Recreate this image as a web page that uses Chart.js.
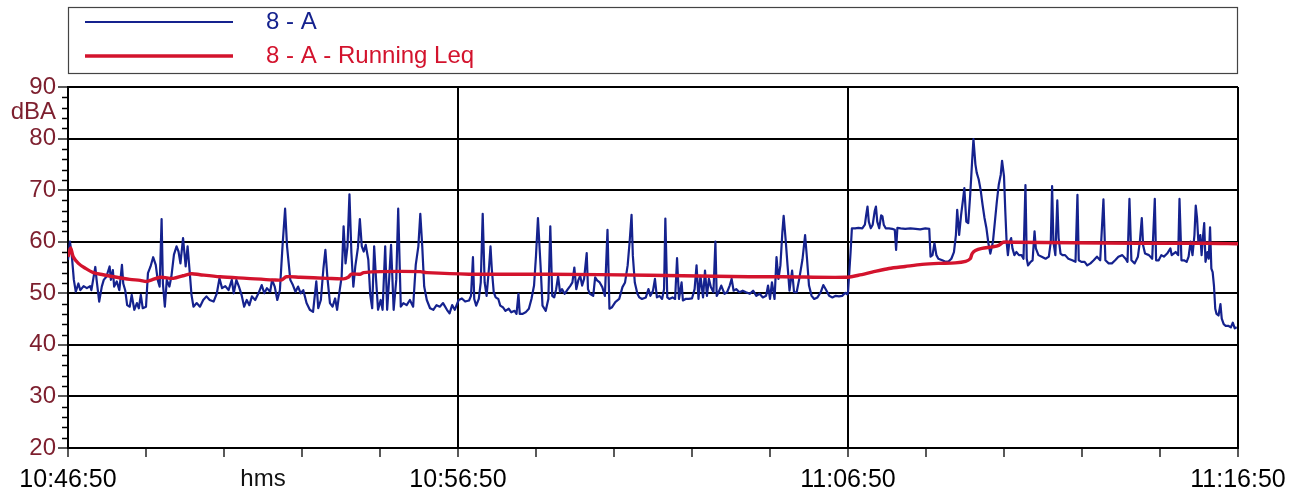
<!DOCTYPE html>
<html>
<head>
<meta charset="utf-8">
<title>8 - A noise level</title>
<style>
  html, body { margin: 0; padding: 0; background: #ffffff; }
  #wrap { position: relative; width: 1295px; height: 491px; }
</style>
<script src="https://cdn.jsdelivr.net/npm/chart.js@4.4.0/dist/chart.umd.min.js"></script>
</head>
<body>
<div id="wrap"><canvas id="c" width="1295" height="491"></canvas></div>
<script>
// Sound level 8 - A, seconds after 10:46:50, in dBA
const levelTime = [
  0,3,6,9,12,16,19,24,29,34,
  36,39,42,44,48,52,55,59,64,66,
  69,71,75,79,83,85,88,91,95,98,
  102,106,109,112,115,120,123,127,131,135,
  138,141,144,146,149,152,156,159,163,167,
  170,173,177,181,184,187,190,193,198,203,
  208,213,218,224,229,233,237,242,247,252,
  255,259,263,267,271,275,279,283,288,293,
  298,302,306,311,314,318,322,326,330,334,
  337,342,346,350,354,358,362,367,372,377,
  382,385,389,393,396,399,403,407,411,414,
  418,421,424,427,430,433,436,439,442,446,
  449,452,455,458,462,465,468,471,474,477,
  481,484,488,491,494,497,501,505,508,512,
  516,521,526,531,535,539,542,545,548,552,
  557,562,567,572,577,583,587,591,595,601,
  606,611,
  617,620,623,625,628,632,635,638,641,644,
  648,650,652,655,658,662,665,669,673,678,
  682,687,690,693,695,699,704,709,713,717,
  720,723,727,730,735,739,742,745,748,751,
  754,757,760,764,769,773,776,779,782,785,
  788,791,794,798,800,803,808,811,814,818,
  822,826,830,833,837,842,848,853,857,861,
  864,867,869,872,876,879,883,889,893,896,
  900,903,906,910,914,917,919,922,925,930,
  934,937,940,944,946,950,955,960,964,967,
  970,973,977,980,983,986,989,993,996,998,
  1001,1005,1010,1014,1018,1021,1024,1028,1033,1038,
  1043,1049,1054,1059,1064,1069,1074,1077,1080,1083,
  1087,1090,1093,1096,1099,1101,1104,1107,1110,1114,
  1117,1121,1125,1130,1134,1137,1140,1144,1148,1153,
  1158,1162,1167,1171,1176,1181,1186,1191,1196,1199,
  1200,1202,1204,1206,1211,1216,1222,1226,1228,1230,
  1232,1235,1238,1241,1243,1245,1248,1251,1253,1255,
  1258,1263,1268,1272,1274,1276,1281,1288,1296,1304,
  1311,1319,1325,1327,1330,1333,1336,1339,1345,1350,
  1355,1359,1363,1366,1368,1371,1374,1377,1379,1382,
  1385,1388,1391,1393,1396,1398,1401,1404,1407,1410,
  1413,1416,1419,1423,1426,1429,1432,1435,1437,1440,
  1442,1444,1446,1448,1451,1453,1456,1459,1463,1467,
  1470,1473,1475,1477,1481,1484,1487,1489,1493,1498,
  1504,1509,1512,1514,1516,1519,1522,1524,1527,1530,
  1534,1539,1545,1550,1553,1555,1559,1564,1568,1573,
  1578,1583,1588,1593,1596,1601,1606,1611,1616,1622,
  1627,1630,1633,1636,1641,1646,1649,1652,1654,1657,
  1663,1668,1672,1674,1678,1682,1686,1691,1696,1698,
  1704,1708,1710,1713,1717,1721,1724,1727,1730,1733,
  1735,1737,1739,1742,1744,1746,1748,1750,1753,1755,
  1757,1759,1761,1763,1765,1767,1770,1773,1775,1778,
  1781,1785,1789,1792,1795,1798
];
const levelDb = [
  56.5,60.0,57.1,52.6,50.3,51.9,50.6,51.4,51.0,51.4,
  50.6,52.9,55.1,52.6,48.4,51.3,52.6,53.2,55.2,52.6,
  54.5,51.3,52.3,50.6,55.5,51.9,50.6,47.7,47.4,49.7,
  46.8,48.1,47.1,49.7,47.1,47.4,53.9,55.2,57.0,55.5,
  52.6,51.3,64.4,51.9,47.4,52.6,51.3,53.2,57.5,59.1,
  58.1,55.8,60.7,55.2,59.1,54.5,49.7,47.4,48.1,47.4,
  48.7,49.4,48.7,48.4,50.0,52.9,51.0,51.4,50.6,52.6,
  50.0,52.6,51.3,49.7,47.4,48.7,47.7,49.4,48.7,50.0,
  51.6,50.0,51.0,50.3,52.6,51.3,48.7,50.6,59.1,66.4,
  59.1,52.6,51.6,50.3,51.3,50.0,50.6,48.1,46.8,46.4,
  52.3,47.1,48.7,54.9,58.4,53.2,48.1,47.4,49.0,46.8,
  50.6,53.2,63.0,55.8,59.1,69.2,57.8,51.3,55.2,58.8,
  64.4,59.1,58.1,59.4,56.5,49.7,47.1,59.1,52.6,46.8,
  48.7,46.8,59.1,46.8,52.6,59.4,46.8,52.6,66.4,47.4,
  48.1,47.7,48.7,47.4,55.5,59.1,65.4,59.1,51.3,48.7,
  47.1,46.8,47.7,47.4,48.1,46.8,46.1,47.7,46.8,48.7,
  49.0,48.4,
  48.6,49.5,57.0,48.9,47.6,48.9,52.1,65.4,52.1,49.5,
  55.4,59.1,54.7,50.2,49.2,48.9,47.6,47.3,46.6,47.0,
  46.3,46.6,46.0,49.9,46.0,46.0,46.3,47.0,48.9,51.5,
  57.3,64.6,55.4,47.6,46.6,48.9,63.0,49.5,49.2,50.8,
  53.3,50.2,50.8,49.9,50.8,51.5,52.1,55.0,50.8,52.5,
  53.4,51.5,52.8,57.8,50.8,49.9,49.5,53.1,52.5,52.1,
  51.2,49.5,62.3,47.0,47.3,48.3,48.9,51.2,52.1,55.4,
  59.9,65.2,57.3,52.1,49.9,49.2,48.9,49.2,50.8,49.5,
  50.5,52.8,49.2,49.5,48.9,50.8,64.5,49.2,48.9,49.2,
  48.9,56.8,48.9,52.1,48.6,48.9,48.9,49.0,50.8,55.4,
  48.9,53.4,49.2,54.4,49.5,52.8,51.2,50.2,60.0,49.5,
  50.2,51.5,49.9,50.2,51.5,52.8,50.5,50.8,50.2,50.5,
  50.2,49.9,50.5,49.5,49.9,49.2,49.5,51.5,48.9,52.1,
  48.9,57.0,52.8,55.4,61.8,65.0,60.5,55.4,50.5,54.4,
  50.2,50.2,52.8,56.6,61.3,56.6,51.5,49.5,48.9,49.2,
  50.2,51.6,50.5,49.5,49.2,49.5,49.4,49.5,50.1,49.8,
  50.2,54.1,58.0,62.6,62.6,62.7,62.6,63.3,65.2,66.8,
  63.9,62.6,63.3,65.9,66.8,63.9,62.6,65.1,64.9,63.3,
  62.6,62.6,62.5,62.3,58.4,62.7,62.6,62.5,62.6,62.5,
  62.4,62.6,62.5,57.1,57.4,59.7,57.4,56.7,56.4,56.1,
  56.2,56.7,58.0,61.3,66.2,61.3,65.2,68.2,70.4,63.9,
  63.6,69.1,75.7,79.9,75.0,73.4,72.1,70.1,67.2,64.6,
  62.6,59.7,57.7,60.0,63.9,67.8,71.1,73.0,75.7,72.7,
  65.9,60.0,57.4,59.7,60.7,58.7,57.4,58.0,57.4,57.4,
  56.7,71.0,56.7,55.4,56.1,56.4,62.0,58.7,57.4,57.1,
  56.7,57.1,60.0,70.8,60.0,57.4,68.0,60.7,57.7,57.4,
  57.4,56.7,56.4,56.1,69.1,56.4,56.1,56.1,55.4,55.8,
  56.4,57.1,56.4,68.2,56.4,55.8,55.8,56.4,57.1,57.4,
  56.7,56.1,68.3,56.4,55.8,57.1,60.0,64.6,59.3,57.7,
  57.4,56.7,68.3,56.4,56.4,57.4,57.1,57.7,58.7,57.4,
  58.0,57.4,68.3,56.4,56.4,56.1,57.1,60.0,57.4,61.3,
  67.0,64.6,60.0,61.3,57.4,60.7,63.6,56.1,58.0,56.7,
  62.8,54.8,54.1,51.5,47.0,46.0,45.7,47.9,45.1,44.0,
  43.7,43.7,43.4,44.3,43.2,43.4
];

// Running Leq of the same channel
const leqTime = [
  0,4,8,16,26,39,54,75,95,111,
  121,129,142,162,177,190,203,234,275,316,
  329,336,357,398,424,431,436,449,455,480,
  542,552,617,740,894,1048,1099,1196,1216,1237,
  1263,1288,1314,1339,1365,1381,1388,1391,1396,1406,
  1422,1432,1439,1452,1545,1647,1750,1800
];
const leqDb = [
  57.1,58.8,57.1,55.8,54.9,54.0,53.6,53.1,52.7,52.5,
  52.3,52.6,53.1,52.9,53.4,53.8,53.6,53.2,52.9,52.6,
  52.6,53.2,53.1,52.9,52.8,53.1,53.7,53.7,54.0,54.2,
  54.2,54.0,53.7,53.7,53.5,53.2,53.2,53.1,53.5,54.1,
  54.8,55.2,55.6,55.8,55.9,56.2,56.7,57.7,58.3,58.7,
  59.0,59.3,59.9,59.9,59.8,59.7,59.7,59.6
];

const seriesNames = ['8 - A', '8 - A - Running Leq'];
const startClock = [10, 46, 50];
const yMin = 20, yMax = 90;

const FONT = '"Liberation Sans", Arial, Helvetica, sans-serif';
const MAROON = '#7d1f2e';
const NAVY = '#15228e';
const RED = '#d3132d';

function hms(sec) {
  const total = startClock[0] * 3600 + startClock[1] * 60 + startClock[2] + sec;
  const h = Math.floor(total / 3600);
  const m = Math.floor((total % 3600) / 60);
  const s = total % 60;
  const p = n => String(n).padStart(2, '0');
  return h + ':' + p(m) + ':' + p(s);
}

const toPoints = (ts, vs) => ts.map((t, i) => ({ x: t, y: vs[i] }));

// Legend box, unit caption, minor y ticks and the "hms" caption
const decorations = {
  id: 'decorations',
  afterDraw(chart) {
    const { ctx, scales } = chart;
    const xs = scales.x, ys = scales.y;
    const left = chart.chartArea.left;
    ctx.save();

    // minor ticks every 2 dB
    ctx.strokeStyle = '#000';
    ctx.lineWidth = 1.3;
    ctx.beginPath();
    for (let v = yMin + 2; v < yMax; v += 2) {
      if (v % 10 === 0) continue;
      const y = Math.round(ys.getPixelForValue(v)) + 0.5;
      ctx.moveTo(left - 6, y);
      ctx.lineTo(left, y);
    }
    ctx.stroke();

    // unit caption
    ctx.fillStyle = MAROON;
    ctx.font = '24px ' + FONT;
    ctx.textAlign = 'right';
    ctx.textBaseline = 'middle';
    ctx.fillText('dBA', left - 12, ys.getPixelForValue(85));

    // time unit caption
    ctx.fillStyle = '#111';
    ctx.font = '24px ' + FONT;
    ctx.textAlign = 'center';
    ctx.fillText('hms', xs.getPixelForValue(300), 479);

    // legend
    ctx.strokeStyle = '#444';
    ctx.lineWidth = 1.2;
    ctx.strokeRect(68.5, 7.5, 1169, 66);
    const rows = [
      { y: 22, ds: chart.data.datasets[0] },
      { y: 56, ds: chart.data.datasets[1] }
    ];
    rows.forEach(r => {
      ctx.strokeStyle = r.ds.borderColor;
      ctx.lineWidth = r.ds.borderWidth;
      ctx.beginPath();
      ctx.moveTo(85, r.y);
      ctx.lineTo(233, r.y);
      ctx.stroke();
      ctx.fillStyle = r.ds.borderColor;
      ctx.font = '24px ' + FONT;
      ctx.textAlign = 'left';
      ctx.textBaseline = 'middle';
      ctx.fillText(r.ds.label, 266, r.y);
    });
    ctx.restore();
  }
};

new Chart(document.getElementById('c'), {
  type: 'line',
  data: {
    datasets: [
      {
        label: seriesNames[0],
        data: toPoints(levelTime, levelDb),
        borderColor: NAVY,
        borderWidth: 2.2,
        borderJoinStyle: 'round',
        pointRadius: 0,
        tension: 0,
        order: 2
      },
      {
        label: seriesNames[1],
        data: toPoints(leqTime, leqDb),
        borderColor: RED,
        borderWidth: 3.4,
        pointRadius: 0,
        tension: 0.3,
        order: 1
      }
    ]
  },
  options: {
    responsive: false,
    animation: false,
    devicePixelRatio: 1,
    layout: { padding: { top: 87, right: 57, left: 0, bottom: 0 } },
    plugins: {
      legend: { display: false },
      tooltip: { enabled: false }
    },
    scales: {
      x: {
        type: 'linear',
        min: 0,
        max: 1800,
        afterFit(s) { s.height = 43; },
        ticks: {
          stepSize: 120,
          autoSkip: false,
          maxRotation: 0,
          padding: 8,
          color: '#000',
          font: { family: FONT, size: 25 },
          callback: v => (v % 600 === 0 ? hms(v) : '')
        },
        grid: {
          color: c => (c.tick && c.tick.value % 600 === 0 ? '#000' : 'rgba(0,0,0,0)'),
          lineWidth: 2,
          tickColor: '#000',
          tickLength: 9,
          tickWidth: 1.3
        },
        border: { color: '#000', width: 2 }
      },
      y: {
        min: yMin,
        max: yMax,
        afterFit(s) { s.width = 68; },
        ticks: {
          stepSize: 10,
          padding: 2,
          color: MAROON,
          font: { family: FONT, size: 24 }
        },
        grid: {
          color: '#000',
          lineWidth: 2,
          tickColor: '#000',
          tickLength: 10,
          tickWidth: 1.3
        },
        border: { color: '#000', width: 2 }
      }
    }
  },
  plugins: [decorations]
});
</script>
</body>
</html>
